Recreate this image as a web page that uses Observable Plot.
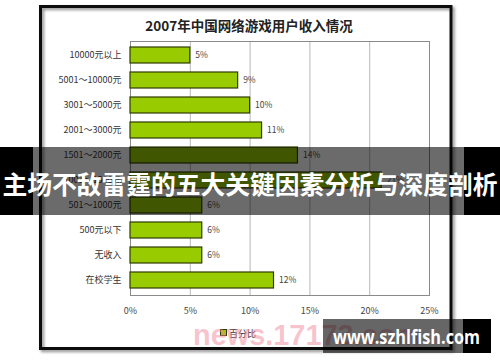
<!DOCTYPE html>
<html>
<head>
<meta charset="utf-8">
<script src="https://cdn.jsdelivr.net/npm/d3@7"></script>
<script src="https://cdn.jsdelivr.net/npm/@observablehq/plot@0.6"></script>
<style>
  html, body { margin: 0; padding: 0; background: #fff; }
  #wrap { position: relative; width: 500px; height: 362px; overflow: hidden; }
  #wrap svg.plot-main { position: absolute; left: 0; top: 0; }
  #overlay { position: absolute; left: 0; top: 0; pointer-events: none; }
</style>
</head>
<body>
<div id="wrap"></div>
<script>
const categories = ["10000元以上", "5001～10000元", "3001～5000元", "2001～3000元", "1501～2000元", "1001～1500元", "501～1000元", "500元以下", "无收入", "在校学生"];
const values = [5, 9, 10, 11, 14, 21, 6, 6, 6, 12];
const xTicks = [0, 5, 10, 15, 20, 25];
const title = "2007年中国网络游戏用户收入情况";
const legendLabel = "百分比";
const bannerText = "主场不敌雷霆的五大关键因素分析与深度剖析";
const watermarkBack = "news.17173.com";
const watermarkFront = "www.szhlfish.com";

const data = categories.map((c, i) => ({category: c, value: values[i]}));
const cjk = "'Noto Sans CJK SC', 'Noto Sans', sans-serif";

const chart = Plot.plot({
  width: 500,
  height: 362,
  marginLeft: 130,
  marginRight: 71,
  marginTop: 41,
  marginBottom: 67,
  style: {fontFamily: cjk, fontSize: "9px", color: "#333", background: "transparent"},
  x: {domain: [0, 25], label: null},
  y: {domain: categories, paddingInner: 0.34, paddingOuter: 0.12, label: null},
  marks: [
    Plot.gridX(xTicks, {stroke: "#b8b8b8", strokeOpacity: 1}),
    Plot.frame({stroke: "#8a8a8a"}),
    Plot.barX(data, {x: "value", y: "category", fill: "#99cc00", stroke: "#2e3b00", strokeWidth: 1.2}),
    Plot.text(data, {x: "value", y: "category", text: d => d.value + "%", dx: 5, textAnchor: "start", fill: "#444", fontSize: 8.5}),
    Plot.axisX(xTicks, {tickSize: 0, tickPadding: 12, tickFormat: d => d + "%", fontSize: 9, fill: "#444", label: null}),
    Plot.axisY({tickSize: 0, tickPadding: 9, fontSize: 9, fill: "#333", label: null})
  ]
});
chart.classList.add("plot-main");
const wrap = document.getElementById("wrap");
wrap.appendChild(chart);

// Decorations overlay
const svg = d3.select(wrap).append("svg")
  .attr("id", "overlay").attr("width", 500).attr("height", 362);

const defs = svg.append("defs");
const f = defs.append("filter").attr("id", "sh").attr("x", "-5%").attr("y", "-5%").attr("width", "110%").attr("height", "110%");
f.append("feDropShadow").attr("dx", 2).attr("dy", 2).attr("stdDeviation", 1.5).attr("flood-color", "#000").attr("flood-opacity", 0.45);

// outer frame of the picture
svg.append("rect").attr("x", 40.5).attr("y", 6.5).attr("width", 410.5).attr("height", 342)
  .attr("fill", "none").attr("stroke", "#111").attr("stroke-width", 3).attr("filter", "url(#sh)");

// title
svg.append("text").attr("x", 249).attr("y", 25).attr("text-anchor", "middle").attr("dominant-baseline", "central")
  .attr("font-family", cjk).attr("font-weight", "bold").attr("font-size", 13.5).attr("fill", "#222")
  .text(title);

// legend
svg.append("rect").attr("x", 220.5).attr("y", 329.5).attr("width", 6).attr("height", 6)
  .attr("fill", "#99cc00").attr("stroke", "#2e3b00").attr("stroke-width", 1);
svg.append("text").attr("x", 229).attr("y", 333).attr("dominant-baseline", "central")
  .attr("font-family", cjk).attr("font-size", 9).attr("fill", "#333").text(legendLabel);

// pink watermark
svg.append("text").attr("x", 193).attr("y", 345)
  .attr("font-family", "'Liberation Sans', Arial, sans-serif").attr("font-weight", "bold").attr("font-size", 30)
  .attr("fill", "#f08a9c").attr("fill-opacity", 0.5)
  .attr("textLength", 228).attr("lengthAdjust", "spacingAndGlyphs")
  .text(watermarkBack);

// banner
const g = svg.append("g");
g.append("rect").attr("x", 0).attr("y", 147).attr("width", 33).attr("height", 68).attr("fill", "#000");
g.append("rect").attr("x", 464).attr("y", 147).attr("width", 36).attr("height", 68).attr("fill", "#000");
g.append("rect").attr("x", 33).attr("y", 147).attr("width", 431).attr("height", 68).attr("fill", "#000").attr("fill-opacity", 0.58);
g.append("text").attr("x", 250).attr("y", 183).attr("text-anchor", "middle").attr("dominant-baseline", "central")
  .attr("font-family", "'Noto Sans CJK SC', sans-serif").attr("font-weight", "bold").attr("font-size", 24.7)
  .attr("fill", "#fff").attr("textLength", 495).attr("lengthAdjust", "spacingAndGlyphs")
  .text(bannerText);

// bottom-right watermark box
const w = svg.append("g");
w.append("rect").attr("x", 323).attr("y", 319).attr("width", 140).attr("height", 34).attr("fill", "#000").attr("fill-opacity", 0.6);
w.append("rect").attr("x", 463).attr("y", 319).attr("width", 28).attr("height", 34).attr("fill", "#000");
w.append("text").attr("x", 333).attr("y", 337).attr("dominant-baseline", "central")
  .attr("font-family", "'Open Sans', 'DejaVu Sans', sans-serif").attr("font-weight", "bold").attr("font-size", 19)
  .attr("fill", "#fff").attr("textLength", 147).attr("lengthAdjust", "spacingAndGlyphs")
  .text(watermarkFront);
</script>
</body>
</html>
